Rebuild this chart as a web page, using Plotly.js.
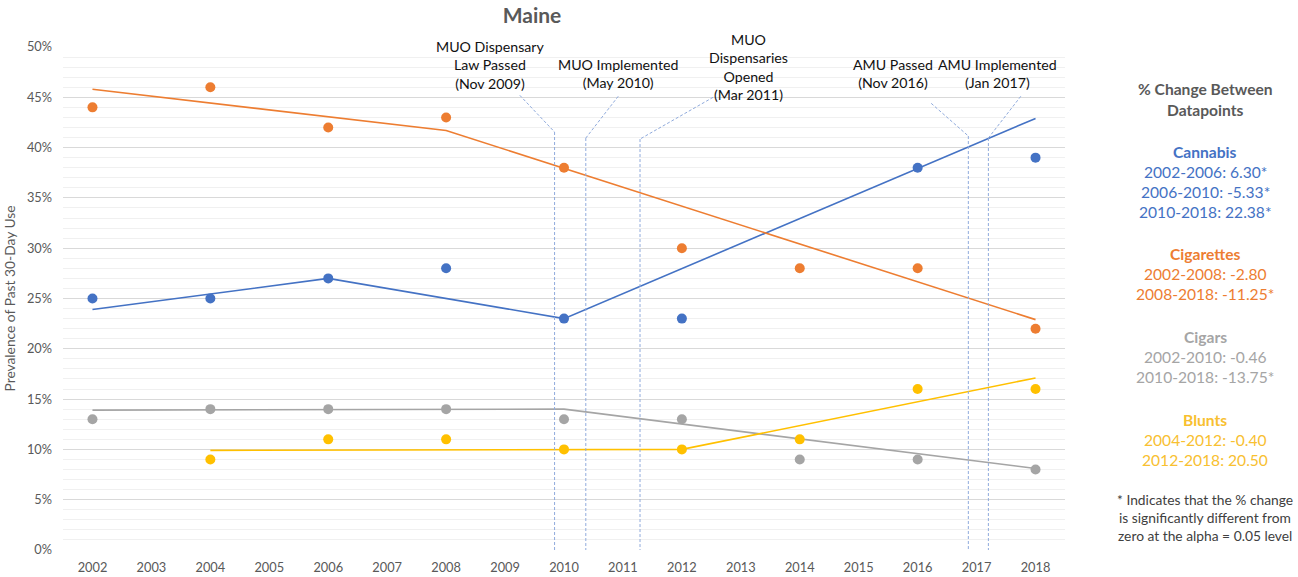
<!DOCTYPE html>
<html>
<head>
<meta charset="utf-8">
<script src="https://cdn.plot.ly/plotly-3.0.1.min.js"></script>
<style>html,body{margin:0;padding:0;background:#fff;}#chart{width:1298px;height:577px;}</style>
</head>
<body>
<div id="chart"></div>
<script>
// ---- Data ----
const years = [2002, 2004, 2006, 2008, 2010, 2012, 2014, 2016, 2018];
const cannabis   = [25, 25, 27, 28, 23, 23, null, 38, 39];
const cigarettes = [44, 46, 42, 43, 38, 30, 28, 28, 22];
const cigars     = [13, 14, 14, 14, 13, 13, 9, 9, 8];
const blunts     = [null, 9, 11, 11, 10, 10, 11, 16, 16];

const cannabisTrendX = [2002, 2006, 2010, 2018];
const cannabisTrendY = [23.9, 27, 23, 42.9];
const cigarettesTrendX = [2002, 2008, 2018];
const cigarettesTrendY = [45.8, 41.7, 22.9];
const cigarsTrendX = [2002, 2010, 2018];
const cigarsTrendY = [13.9, 14.0, 8.1];
const bluntsTrendX = [2004, 2012, 2018];
const bluntsTrendY = [9.9, 10.0, 17.1];

const eventLabels = [
  "MUO Dispensary<br>Law Passed<br>(Nov 2009)",
  "MUO Implemented<br>(May 2010)",
  "MUO<br>Dispensaries<br>Opened<br>(Mar 2011)",
  "AMU Passed<br>(Nov 2016)",
  "AMU Implemented<br>(Jan 2017)"
];
const eventX = [2009.84, 2010.37, 2011.29, 2016.86, 2017.2];

const yTickVals = [0, 5, 10, 15, 20, 25, 30, 35, 40, 45, 50];
const yTickText = ["0%", "5%", "10%", "15%", "20%", "25%", "30%", "35%", "40%", "45%", "50%"];

const panelTitle = ["% Change Between", "Datapoints"];
const panelGroups = [
  {name: "Cannabis", lines: ["2002-2006: 6.30*", "2006-2010: -5.33*", "2010-2018: 22.38*"]},
  {name: "Cigarettes", lines: ["2002-2008: -2.80", "2008-2018: -11.25*"]},
  {name: "Cigars", lines: ["2002-2010: -0.46", "2010-2018: -13.75*"]},
  {name: "Blunts", lines: ["2004-2012: -0.40", "2012-2018: 20.50"]}
];
const footnote = ["* Indicates that the % change", "is significantly different from", "zero at the alpha = 0.05 level"];

// ---- Styles ----
const colors = ["#4472C4", "#ED7D31", "#A5A5A5", "#FFC000"];
const textColors = ["#4472C4", "#ED7D31", "#A5A5A5", "#F8C030"];
const FONT = "Lato, 'Open Sans', sans-serif";

const series = [cannabis, cigarettes, cigars, blunts];
const trends = [[cannabisTrendX, cannabisTrendY], [cigarettesTrendX, cigarettesTrendY],
                [cigarsTrendX, cigarsTrendY], [bluntsTrendX, bluntsTrendY]];

const traces = [];
trends.forEach((t, i) => {
  traces.push({x: t[0], y: t[1], mode: "lines", type: "scatter",
    line: {color: colors[i], width: 1.6}, hoverinfo: "skip", showlegend: false});
});
series.forEach((s, i) => {
  traces.push({x: years, y: s, mode: "markers", type: "scatter",
    marker: {color: colors[i], size: 10}, showlegend: false});
});

// Leader lines for events (label anchor -> elbow -> bottom)
const leaderTop = [[2009.25, 45.2], [2010.92, 45.1], [2012.53, 45.0], [2016.23, 44.4], [2017.75, 45.1]];
const elbowY = [41.55, 40.95, 40.85, 41.15, 40.95];
const shapes = [];
eventX.forEach((x, i) => {
  const ln = {color: "#8FAADC", width: 1, dash: "3px,2px"};
  shapes.push({type: "line", xref: "x", yref: "y", x0: leaderTop[i][0], y0: leaderTop[i][1], x1: x, y1: elbowY[i], line: ln});
  shapes.push({type: "line", xref: "x", yref: "y", x0: x, y0: elbowY[i], x1: x, y1: 0, line: ln});
});

const annotations = [];
const labelCenters = [491, 618, 748, 893, 997];
const labelBottoms = [94, 93, 105, 93, 93];
const pxToX = px => 2002 + (px - 93) / 58.875;
const pxToY = py => (550 - py) / 10.06;
eventLabels.forEach((t, i) => {
  annotations.push({text: t, x: pxToX(labelCenters[i]), y: pxToY(labelBottoms[i]), xref: "x", yref: "y",
    xanchor: "center", yanchor: "bottom", showarrow: false, align: "center",
    font: {family: FONT, size: 14.2, color: "#111111"}});
});

// Right-side panel
const panelX = (1205 - 63) / 1002;
const pyPaper = py => (550 - py) / 503;
function addLine(text, py, color, bold, size) {
  annotations.push({text: bold ? "<b>" + text + "</b>" : text, x: panelX, y: pyPaper(py), xref: "paper", yref: "paper",
    xanchor: "center", yanchor: "middle", showarrow: false,
    font: {family: FONT, size: size || 15.6, color: color}});
}
addLine(panelTitle[0], 89, "#595959", true);
addLine(panelTitle[1], 110, "#595959", true);
const groupStarts = [152, 254, 337, 420];
panelGroups.forEach((g, gi) => {
  addLine(g.name, groupStarts[gi], textColors[gi], true);
  g.lines.forEach((l, li) => addLine(l, groupStarts[gi] + 20 * (li + 1), textColors[gi], false));
});
footnote.forEach((l, i) => addLine(l, 499 + 18 * i, "#404040", false, 13.8));

const layout = {
  width: 1298, height: 577,
  margin: {l: 63, r: 233, t: 47, b: 27, pad: 0},
  paper_bgcolor: "#ffffff", plot_bgcolor: "#ffffff",
  font: {family: FONT, color: "#595959"},
  title: {text: "<b>Maine</b>", x: 532 / 1298, xref: "container", xanchor: "center",
          y: 1 - 16 / 577, yref: "container", yanchor: "middle",
          font: {family: FONT, size: 21, color: "#595959"}},
  xaxis: {range: [2001.5, 2018.5], tickmode: "linear", tick0: 2002, dtick: 1,
          showgrid: false, zeroline: false, showline: false, ticks: "",
          tickfont: {family: FONT, size: 12.8, color: "#595959"}, ticklabelstandoff: 8, fixedrange: true},
  yaxis: {range: [0, 50], tickmode: "array", tickvals: yTickVals, ticktext: yTickText,
          showgrid: true, gridcolor: "#D9D9D9", gridwidth: 1, zeroline: false, showline: false, ticks: "",
          minor: {dtick: 1, tick0: 0, showgrid: true, gridcolor: "#F0F0F0", gridwidth: 1},
          tickfont: {family: FONT, size: 12.8, color: "#595959"}, ticklabelstandoff: 10,
          title: {text: "Prevalence of Past 30-Day Use", font: {family: FONT, size: 13.8, color: "#595959"}, standoff: 8},
          fixedrange: true},
  shapes: shapes,
  annotations: annotations,
  showlegend: false,
  hovermode: false
};

Plotly.newPlot("chart", traces, layout, {displayModeBar: false, staticPlot: true});
</script>
</body>
</html>
